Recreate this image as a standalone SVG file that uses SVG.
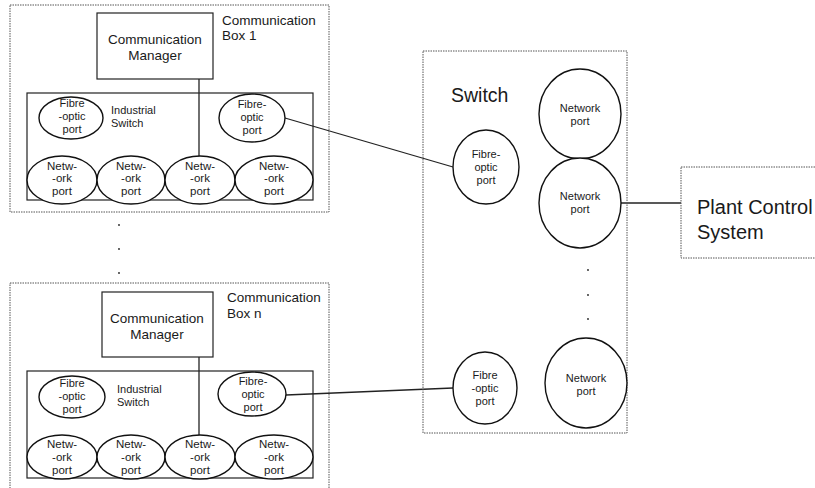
<svg xmlns="http://www.w3.org/2000/svg" width="815" height="488" viewBox="0 0 815 488">
<style>
text{font-family:"Liberation Sans",Arial,sans-serif;fill:#1a1a1a}
.dot{fill:none;stroke:#555;stroke-width:1;stroke-dasharray:1.5,1}
.box{fill:#fff;stroke:#222;stroke-width:1.2}
.el{fill:#fff;stroke:#111;stroke-width:1.4}
.s{font-size:11px;text-anchor:middle}
.n{font-size:11.5px;text-anchor:middle}
.m{font-size:13.5px}
.mc{font-size:13.5px;text-anchor:middle}
.l{fill:none;stroke:#222;stroke-width:1.3}
</style>
<rect width="815" height="488" fill="#fff"/>

<g id="connectors">
<line class="l" x1="199" y1="79" x2="199" y2="157"/>
<line class="l" x1="199" y1="357" x2="199" y2="435"/>
<line class="l" x1="285" y1="118" x2="453" y2="167"/>
<line class="l" x1="286" y1="395" x2="453" y2="388"/>
<line class="l" x1="621" y1="203" x2="681" y2="203"/>
</g>

<g id="commbox1">
<rect class="dot" x="10" y="5" width="319" height="207"/>
<text class="m" x="222" y="25">Communication</text>
<text class="m" x="222" y="40">Box 1</text>
<g id="manager1">
<rect class="box" x="97" y="13" width="116" height="66"/>
<text class="mc" x="155" y="44">Communication</text>
<text class="mc" x="155" y="60">Manager</text>
</g>
<g id="indswitch1">
<rect class="box" x="27" y="93" width="286" height="107" style="fill:none"/>
<text class="s" x="111" y="114" style="text-anchor:start">Industrial</text>
<text class="s" x="111" y="127" style="text-anchor:start">Switch</text>
</g>
<g id="fibre1a"><ellipse class="el" cx="71" cy="118" rx="32" ry="21"/>
<text class="s" x="72" y="107">Fibre</text><text class="s" x="72" y="120">-optic</text><text class="s" x="72" y="133">port</text></g>
<g id="fibre1b"><ellipse class="el" cx="252" cy="118" rx="33" ry="24"/>
<text class="s" x="252" y="108">Fibre-</text><text class="s" x="252" y="121">optic</text><text class="s" x="252" y="134">port</text></g>
<g id="net1a"><ellipse class="el" cx="62" cy="180" rx="35" ry="24"/>
<text class="n" x="62" y="170">Netw-</text><text class="n" x="62" y="182">-ork</text><text class="n" x="62" y="195">port</text></g>
<g id="net1b"><ellipse class="el" cx="131" cy="180" rx="34" ry="24"/>
<text class="n" x="131" y="170">Netw-</text><text class="n" x="131" y="182">-ork</text><text class="n" x="131" y="195">port</text></g>
<g id="net1c"><ellipse class="el" cx="200" cy="180" rx="35" ry="24"/>
<text class="n" x="200" y="170">Netw-</text><text class="n" x="200" y="182">-ork</text><text class="n" x="200" y="195">port</text></g>
<g id="net1d"><ellipse class="el" cx="274" cy="180" rx="39" ry="24"/>
<text class="n" x="274" y="170">Netw-</text><text class="n" x="274" y="182">-ork</text><text class="n" x="274" y="195">port</text></g>
</g>

<g id="ellipsis-left">
<circle cx="119" cy="225" r="0.9" fill="#222"/>
<circle cx="119" cy="249" r="0.9" fill="#222"/>
<circle cx="119" cy="273" r="0.9" fill="#222"/>
</g>

<g id="commboxn">
<rect class="dot" x="10" y="283" width="319" height="210"/>
<text class="m" x="227" y="302">Communication</text>
<text class="m" x="227" y="318">Box n</text>
<g id="managern">
<rect class="box" x="102" y="292" width="111" height="65"/>
<text class="mc" x="157" y="323">Communication</text>
<text class="mc" x="157" y="339">Manager</text>
</g>
<g id="indswitchn">
<rect class="box" x="27" y="371" width="286" height="107" style="fill:none"/>
<text class="s" x="117" y="393" style="text-anchor:start">Industrial</text>
<text class="s" x="117" y="406" style="text-anchor:start">Switch</text>
</g>
<g id="fibrena"><ellipse class="el" cx="72" cy="397" rx="33" ry="21"/>
<text class="s" x="72" y="387">Fibre</text><text class="s" x="72" y="400">-optic</text><text class="s" x="72" y="413">port</text></g>
<g id="fibrenb"><ellipse class="el" cx="252" cy="394" rx="34" ry="22"/>
<text class="s" x="253" y="385">Fibre-</text><text class="s" x="253" y="398">optic</text><text class="s" x="253" y="411">port</text></g>
<g id="netna"><ellipse class="el" cx="62" cy="457" rx="35" ry="22"/>
<text class="n" x="62" y="448">Netw-</text><text class="n" x="62" y="461">-ork</text><text class="n" x="62" y="474">port</text></g>
<g id="netnb"><ellipse class="el" cx="131" cy="457" rx="34" ry="22"/>
<text class="n" x="131" y="448">Netw-</text><text class="n" x="131" y="461">-ork</text><text class="n" x="131" y="474">port</text></g>
<g id="netnc"><ellipse class="el" cx="200" cy="457" rx="35" ry="22"/>
<text class="n" x="200" y="448">Netw-</text><text class="n" x="200" y="461">-ork</text><text class="n" x="200" y="474">port</text></g>
<g id="netnd"><ellipse class="el" cx="274" cy="457" rx="39" ry="22"/>
<text class="n" x="274" y="448">Netw-</text><text class="n" x="274" y="461">-ork</text><text class="n" x="274" y="474">port</text></g>
</g>

<g id="switch">
<rect class="dot" x="423" y="51" width="204" height="382"/>
<text x="451" y="102" style="font-size:19.5px">Switch</text>
<g id="swfibre1"><ellipse class="el" cx="486" cy="167" rx="33" ry="37"/>
<text class="s" x="486" y="158">Fibre-</text><text class="s" x="486" y="171">optic</text><text class="s" x="486" y="184">port</text></g>
<g id="swfibren"><ellipse class="el" cx="485" cy="388" rx="32" ry="36"/>
<text class="s" x="485" y="379">Fibre</text><text class="s" x="485" y="392">-optic</text><text class="s" x="485" y="405">port</text></g>
<g id="swnet1"><ellipse class="el" cx="580" cy="114" rx="41" ry="45"/>
<text class="s" x="580" y="112">Network</text><text class="s" x="580" y="125">port</text></g>
<g id="swnet2"><ellipse class="el" cx="580" cy="203" rx="41" ry="45"/>
<text class="s" x="580" y="200">Network</text><text class="s" x="580" y="213">port</text></g>
<g id="swnetn"><ellipse class="el" cx="586" cy="383" rx="41" ry="45"/>
<text class="s" x="586" y="382">Network</text><text class="s" x="586" y="395">port</text></g>
<circle cx="588" cy="270" r="0.9" fill="#222"/>
<circle cx="588" cy="295" r="0.9" fill="#222"/>
<circle cx="588" cy="319" r="0.9" fill="#222"/>
</g>

<g id="plantcontrol">
<rect class="dot" x="681" y="167" width="140" height="91"/>
<text x="697" y="214" style="font-size:20px">Plant Control</text>
<text x="697" y="239" style="font-size:20px">System</text>
</g>
</svg>
